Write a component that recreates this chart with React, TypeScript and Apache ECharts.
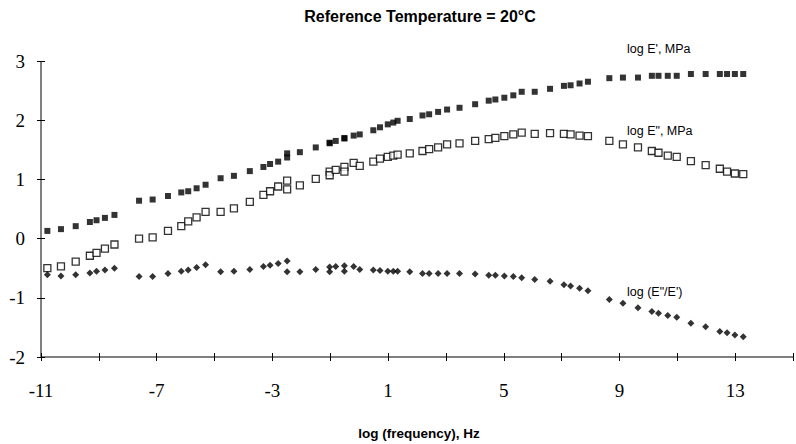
import React, { useEffect, useRef } from "react";
import * as echarts from "echarts";

// log frequency (Hz) of each measured point; repeated values are overlapping runs
const logFreq = [
  -10.78, -10.31, -9.8, -9.31, -9.08, -8.79, -8.46, -7.61, -7.14, -6.61,
  -6.15, -5.91, -5.62, -5.31, -4.79, -4.33, -3.78, -3.31, -3.08, -2.8,
  -2.49, -2.49, -2.05, -1.5, -1.02, -1.02, -0.81, -0.51, -0.51, -0.19,
  0.02, 0.49, 0.72, 0.99, 1.18, 1.33, 1.75, 2.19, 2.42, 2.73,
  3.04, 3.47, 4.01, 4.48, 4.71, 5.02, 5.33, 5.62, 6.07, 6.6,
  7.08, 7.31, 7.62, 7.91, 8.65, 9.12, 9.64, 10.12, 10.35, 10.67,
  10.98, 11.47, 11.98, 12.47, 12.72, 12.99, 13.28,
];

// log E' (MPa) – storage modulus
const logStorage = [
  0.13, 0.16, 0.21, 0.28, 0.31, 0.35, 0.4, 0.64, 0.66, 0.72,
  0.78, 0.8, 0.85, 0.91, 1.02, 1.06, 1.14, 1.21, 1.26, 1.3,
  1.44, 1.37, 1.46, 1.54, 1.62, 1.61, 1.65, 1.69, 1.7, 1.74,
  1.76, 1.83, 1.88, 1.93, 1.96, 1.99, 2.02, 2.08, 2.1, 2.14,
  2.18, 2.21, 2.27, 2.33, 2.35, 2.38, 2.42, 2.48, 2.48, 2.53,
  2.58, 2.59, 2.62, 2.65, 2.71, 2.72, 2.72, 2.75, 2.75, 2.75,
  2.75, 2.78, 2.78, 2.78, 2.78, 2.78, 2.78,
];

// log E" (MPa) – loss modulus
const logLoss = [
  -0.5, -0.47, -0.39, -0.29, -0.24, -0.17, -0.1, 0.0, 0.02, 0.13,
  0.21, 0.29, 0.36, 0.45, 0.45, 0.51, 0.62, 0.74, 0.8, 0.88,
  0.98, 0.83, 0.9, 1.01, 1.13, 1.07, 1.16, 1.21, 1.13, 1.28,
  1.23, 1.3, 1.35, 1.38, 1.4, 1.42, 1.44, 1.48, 1.51, 1.54,
  1.59, 1.61, 1.65, 1.68, 1.7, 1.73, 1.76, 1.79, 1.77, 1.78,
  1.77, 1.76, 1.74, 1.73, 1.65, 1.59, 1.54, 1.48, 1.45, 1.4,
  1.38, 1.31, 1.24, 1.18, 1.13, 1.1, 1.09,
];

// log (E"/E') – loss tangent
const logTanDelta = [
  -0.61, -0.63, -0.61, -0.58, -0.55, -0.53, -0.5, -0.64, -0.64, -0.59,
  -0.55, -0.53, -0.49, -0.44, -0.56, -0.55, -0.52, -0.47, -0.45, -0.42,
  -0.38, -0.56, -0.56, -0.52, -0.48, -0.56, -0.47, -0.46, -0.55, -0.47,
  -0.52, -0.53, -0.54, -0.55, -0.55, -0.55, -0.56, -0.59, -0.59, -0.59,
  -0.59, -0.59, -0.6, -0.62, -0.62, -0.63, -0.64, -0.66, -0.69, -0.72,
  -0.78, -0.8, -0.84, -0.88, -1.03, -1.09, -1.17, -1.23, -1.26, -1.3,
  -1.33, -1.43, -1.49, -1.57, -1.59, -1.63, -1.66,
];

// x axis runs from -11 to 15, ticks every 2, labels every 4
const xMin = -11;
const xMax = 15;
const xTickStep = 2;
const xLabelStep = 4;

const yMin = -2;
const yMax = 3;

const titleText = "Reference Temperature = 20\u00B0C";
const xAxisTitle = "log (frequency), Hz";
const storageLabel = "log E', MPa";
const lossLabel = 'log E", MPa';
const ratioLabel = "log (E\"/E')";

const serif = "'Liberation Serif', 'Times New Roman', serif";
const sans = "'Liberation Sans', Arial, sans-serif";

const pairs = (ys: number[]) => logFreq.map((x, i) => [x, ys[i]]);

const textEl = (
  x: number,
  y: number,
  text: string,
  size: number,
  bold: boolean,
  align: "left" | "center"
) => ({
  type: "text",
  x,
  y,
  style: {
    text,
    fontFamily: sans,
    fontWeight: bold ? "bold" : "normal",
    fontSize: size,
    fill: "#000",
    textAlign: align,
    textVerticalAlign: "middle",
  },
});

export default function App() {
  const ref = useRef<HTMLDivElement>(null);

  useEffect(() => {
    if (!ref.current) return;
    const chart = echarts.init(ref.current, null, { renderer: "svg" });

    const xSpan = xMax - xMin;
    const tick = (inside: boolean) => ({
      show: true,
      inside,
      length: 4,
      lineStyle: { color: "#000", width: 1 },
    });
    const hiddenLine = { show: false, onZero: false };

    const texts = [
      textEl(420, 16, titleText, 16, true, "center"),
      textEl(419, 433, xAxisTitle, 13.5, true, "center"),
      textEl(627, 49, storageLabel, 12.5, false, "left"),
      textEl(627, 131, lossLabel, 12.5, false, "left"),
      textEl(627, 292, ratioLabel, 12.5, false, "left"),
    ];

    chart.setOption({
      animation: false,
      backgroundColor: "#fff",
      grid: { left: 41, right: 0, top: 61, bottom: 87, containLabel: false },
      xAxis: [
        {
          // data axis
          type: "value",
          position: "bottom",
          min: xMin,
          max: xMax,
          axisLine: hiddenLine,
          axisTick: { show: false },
          axisLabel: { show: false },
          splitLine: { show: false },
        },
        {
          // tick/label axis on a shifted scale so ticks start at the left end
          type: "value",
          position: "bottom",
          min: 0,
          max: xSpan,
          interval: xTickStep,
          axisLine: hiddenLine,
          axisTick: tick(false),
          axisLabel: {
            margin: 24,
            fontFamily: serif,
            fontSize: 19,
            color: "#000",
            formatter: (v: number) =>
              v % xLabelStep === 0 && v < xSpan ? String(v + xMin) : "",
          },
          splitLine: { show: false },
        },
        {
          // inner half of the crossing x ticks
          type: "value",
          position: "bottom",
          min: 0,
          max: xSpan,
          interval: xTickStep,
          axisLine: hiddenLine,
          axisTick: tick(true),
          axisLabel: { show: false },
          splitLine: { show: false },
        },
      ],
      yAxis: [
        {
          type: "value",
          position: "left",
          min: yMin,
          max: yMax,
          interval: 1,
          axisLine: hiddenLine,
          axisTick: tick(false),
          axisLabel: {
            margin: 16,
            fontFamily: serif,
            fontSize: 19,
            color: "#000",
          },
          splitLine: { show: false },
        },
        {
          // inner half of the crossing y ticks
          type: "value",
          position: "left",
          min: yMin,
          max: yMax,
          interval: 1,
          axisLine: hiddenLine,
          axisTick: tick(true),
          axisLabel: { show: false },
          splitLine: { show: false },
        },
      ],
      series: [
        {
          name: storageLabel,
          type: "scatter",
          xAxisIndex: 0,
          yAxisIndex: 0,
          symbol: "rect",
          symbolSize: 6,
          itemStyle: { color: "#000" },
          data: pairs(logStorage),
        },
        {
          name: lossLabel,
          type: "scatter",
          xAxisIndex: 0,
          yAxisIndex: 0,
          symbol: "rect",
          symbolSize: 7,
          itemStyle: { color: "#fff", borderColor: "#000", borderWidth: 1.3 },
          data: pairs(logLoss),
        },
        {
          name: ratioLabel,
          type: "scatter",
          xAxisIndex: 0,
          yAxisIndex: 0,
          symbol: "diamond",
          symbolSize: 7,
          itemStyle: { color: "#000" },
          data: pairs(logTanDelta),
        },
      ],
      graphic: texts,
    });

    // axis lines along the lower and left edges of the plot, placed through the axes' scales
    const origin = chart.convertToPixel({ xAxisIndex: 0, yAxisIndex: 0 }, [xMin, yMin]) as number[];
    const topLeft = chart.convertToPixel({ xAxisIndex: 0, yAxisIndex: 0 }, [xMin, yMax]) as number[];
    const right = chart.convertToPixel({ xAxisIndex: 0, yAxisIndex: 0 }, [xMax, yMin]) as number[];
    const lineStyle = { stroke: "#000", lineWidth: 1 };
    chart.setOption({
      graphic: [
        ...texts,
        {
          type: "line",
          z: 50,
          shape: { x1: origin[0], y1: origin[1], x2: right[0], y2: right[1] },
          style: lineStyle,
        },
        {
          type: "line",
          z: 50,
          shape: { x1: origin[0], y1: origin[1], x2: topLeft[0], y2: topLeft[1] },
          style: lineStyle,
        },
      ],
    });

    return () => chart.dispose();
  }, []);

  return (
    <div
      ref={ref}
      style={{ position: "fixed", left: 0, top: 0, width: 796, height: 444, background: "#fff" }}
    />
  );
}
